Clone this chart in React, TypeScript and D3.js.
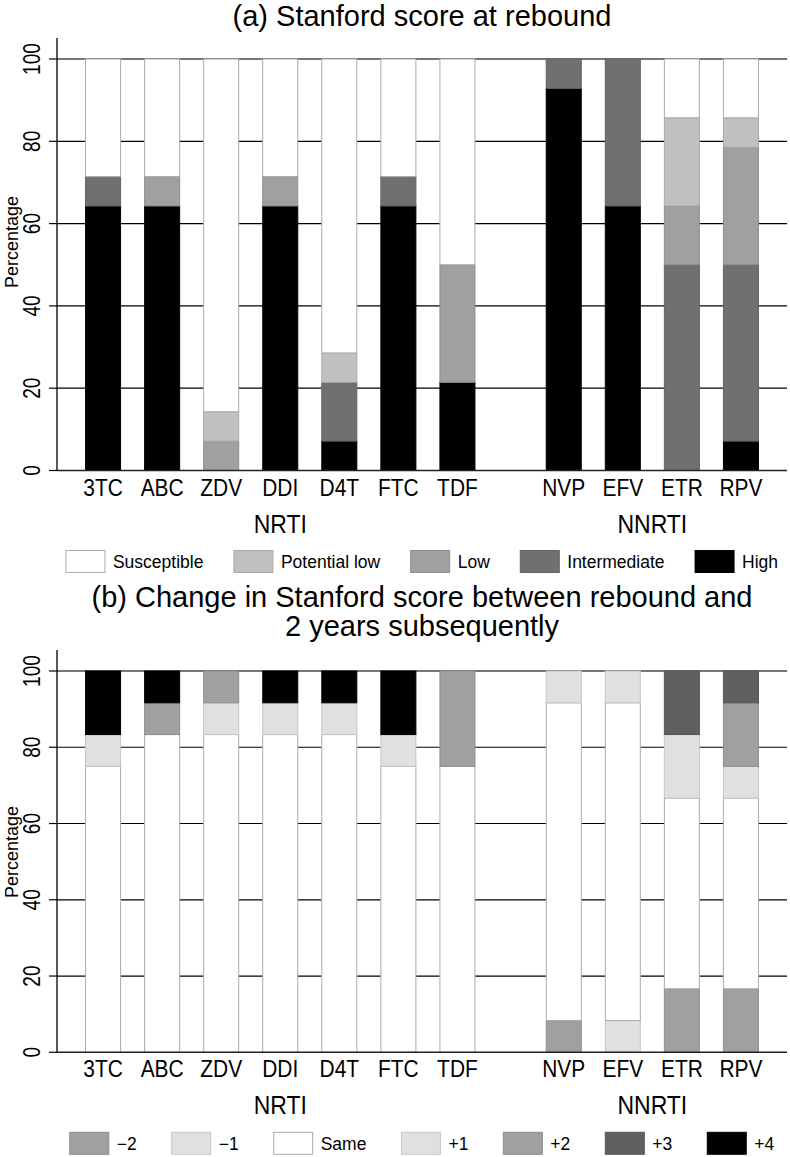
import React, { useEffect, useRef } from 'react';
import * as d3 from 'd3';

const NRTI_DRUGS = ['3TC', 'ABC', 'ZDV', 'DDI', 'D4T', 'FTC', 'TDF'];
const NNRTI_DRUGS = ['NVP', 'EFV', 'ETR', 'RPV'];
const GROUP_LABELS = ['NRTI', 'NNRTI'];
const Y_TICKS = [0, 20, 40, 60, 80, 100];

// Panel (a): percentage of each Stanford level, per drug (3TC..TDF, NVP..RPV)
const A_LEVELS = ['Susceptible', 'Potential low', 'Low', 'Intermediate', 'High'];
const A_COLORS = ['#ffffff', '#c0c0c0', '#a0a0a0', '#707070', '#000000'];
const A_SUSCEPTIBLE = [28.57, 28.57, 85.71, 28.57, 71.43, 28.57, 50, 0, 0, 14.29, 14.29];
const A_POTENTIAL_LOW = [0, 0, 7.14, 0, 7.14, 0, 0, 0, 0, 21.43, 7.14];
const A_LOW = [0, 7.14, 7.14, 7.14, 0, 0, 28.57, 0, 0, 14.29, 28.57];
const A_INTERMEDIATE = [7.14, 0, 0, 0, 14.29, 7.14, 0, 7.14, 35.71, 50, 42.86];
const A_HIGH = [64.29, 64.29, 0, 64.29, 7.14, 64.29, 21.43, 92.86, 64.29, 0, 7.14];

// Panel (b): change in Stanford score
const B_LEVELS = ['\u22122', '\u22121', 'Same', '+1', '+2', '+3', '+4'];
const B_COLORS = ['#a0a0a0', '#e0e0e0', '#ffffff', '#e0e0e0', '#a0a0a0', '#606060', '#000000'];
const B_M2 = [0, 0, 0, 0, 0, 0, 0, 8.33, 0, 16.67, 16.67];
const B_M1 = [0, 0, 0, 0, 0, 0, 0, 0, 8.33, 0, 0];
const B_SAME = [75, 83.33, 83.33, 83.33, 83.33, 75, 75, 83.33, 83.33, 50, 50];
const B_P1 = [8.33, 0, 8.33, 8.33, 8.33, 8.33, 0, 8.33, 8.33, 16.67, 8.33];
const B_P2 = [0, 8.33, 8.33, 0, 0, 0, 25, 0, 0, 0, 16.67];
const B_P3 = [0, 0, 0, 0, 0, 0, 0, 0, 0, 16.67, 8.33];
const B_P4 = [16.67, 8.33, 0, 8.33, 8.33, 16.67, 0, 0, 0, 0, 0];

const W = 790;
const H = 1157;
const FONT = "'Liberation Sans', Arial, Helvetica, sans-serif";
const PLOT_L = 57;
const PLOT_R = 787;

interface PanelCfg {
  titles: string[];
  titleY: number[];
  y100: number;
  y0: number;
  ylabelY: number;
  levels: string[];
  colors: string[];
  series: number[][]; // in legend order
  stackOrder: number[]; // bottom to top indices into levels
  legendGap: number;
}

function strokeFor(c: string) {
  if (c.toLowerCase() === '#ffffff') return '#ababab';
  return d3.rgb(c).darker(0.35).formatHex();
}

function drawPanel(svg: d3.Selection<SVGSVGElement, unknown, null, undefined>, cfg: PanelCfg) {
  const drugs = [...NRTI_DRUGS, ...NNRTI_DRUGS];
  const slot = drugs.map((_, i) => (i < NRTI_DRUGS.length ? i : i + 0.8));
  const x = d3.scaleLinear().domain([-0.78, 11.58]).range([PLOT_L, PLOT_R]);
  const y = d3.scaleLinear().domain([0, 100]).range([cfg.y0, cfg.y100]);
  const barW = 0.593 * (x(1) - x(0));
  const g = svg.append('g');

  // titles
  cfg.titles.forEach((t, i) => {
    g.append('text')
      .attr('x', (PLOT_L + PLOT_R) / 2)
      .attr('y', cfg.titleY[i])
      .attr('text-anchor', 'middle')
      .attr('font-size', 29)
      .attr('font-family', FONT)
      .attr('fill', '#000')
      .text(t);
  });

  // gridlines
  g.append('g')
    .selectAll('line')
    .data(Y_TICKS.filter((d) => d > 0))
    .join('line')
    .attr('x1', PLOT_L)
    .attr('x2', PLOT_R)
    .attr('y1', (d) => y(d))
    .attr('y2', (d) => y(d))
    .attr('stroke', (d) => (d === 100 ? '#4a4a4a' : '#000'))
    .attr('stroke-width', (d) => (d === 100 ? 1.6 : 1.2));

  // bars
  const rows = drugs.map((dname, i) => {
    const r: Record<string, number | string> = { drug: dname };
    cfg.levels.forEach((lv, k) => (r[lv] = cfg.series[k][i]));
    return r;
  });
  const keys = cfg.stackOrder.map((k) => cfg.levels[k]);
  const stack = d3.stack<Record<string, number | string>>().keys(keys)(rows as any);
  stack.forEach((layer, li) => {
    const color = cfg.colors[cfg.stackOrder[li]];
    g.append('g')
      .selectAll('rect')
      .data(layer.map((d, i) => ({ d, i })).filter((o) => o.d[1] - o.d[0] > 0))
      .join('rect')
      .attr('x', (o) => x(slot[o.i]) - barW / 2)
      .attr('width', barW)
      .attr('y', (o) => y(o.d[1]))
      .attr('height', (o) => y(o.d[0]) - y(o.d[1]))
      .attr('fill', color)
      .attr('stroke', strokeFor(color))
      .attr('stroke-width', 1);
  });

  // axes
  g.append('line')
    .attr('x1', PLOT_L)
    .attr('x2', PLOT_L)
    .attr('y1', cfg.y100 - 21)
    .attr('y2', cfg.y0)
    .attr('stroke', '#000')
    .attr('stroke-width', 1.3);
  g.append('line')
    .attr('x1', PLOT_L)
    .attr('x2', PLOT_R)
    .attr('y1', cfg.y0)
    .attr('y2', cfg.y0)
    .attr('stroke', '#222')
    .attr('stroke-width', 1.5);

  // y ticks
  const yt = g.append('g');
  yt.selectAll('line')
    .data(Y_TICKS)
    .join('line')
    .attr('x1', PLOT_L - 8)
    .attr('x2', PLOT_L)
    .attr('y1', (d) => y(d))
    .attr('y2', (d) => y(d))
    .attr('stroke', '#000')
    .attr('stroke-width', 1.2);
  yt.selectAll('text')
    .data(Y_TICKS)
    .join('text')
    .attr('transform', (d) => `translate(40,${y(d)}) rotate(-90) scale(0.83,1)`)
    .attr('text-anchor', 'middle')
    .attr('font-size', 23)
    .attr('font-family', FONT)
    .text((d) => String(d));

  g.append('text')
    .attr('transform', `translate(18,${cfg.ylabelY}) rotate(-90)`)
    .attr('text-anchor', 'middle')
    .attr('font-size', 18)
    .attr('font-family', FONT)
    .text('Percentage');

  // x labels
  g.append('g')
    .selectAll('text')
    .data(drugs)
    .join('text')
    .attr('transform', (_, i) => `translate(${x(slot[i])},${cfg.y0 + 25}) scale(0.91,1)`)
    .attr('text-anchor', 'middle')
    .attr('font-size', 23)
    .attr('font-family', FONT)
    .text((d) => d);

  const groupCenters = [
    (x(slot[0]) + x(slot[NRTI_DRUGS.length - 1])) / 2,
    (x(slot[NRTI_DRUGS.length]) + x(slot[drugs.length - 1])) / 2,
  ];
  g.append('g')
    .selectAll('text')
    .data(GROUP_LABELS)
    .join('text')
    .attr('transform', (_, i) => `translate(${groupCenters[i]},${cfg.y0 + 62}) scale(0.92,1)`)
    .attr('text-anchor', 'middle')
    .attr('font-size', 25)
    .attr('font-family', FONT)
    .text((d) => d);

  // legend
  const boxW = 39;
  const boxH = 22;
  const boxGap = 8;
  const lg = g.append('g');
  const items = cfg.levels.map((lv, k) => {
    const it = lg.append('g');
    it.append('rect')
      .attr('width', boxW)
      .attr('height', boxH)
      .attr('fill', cfg.colors[k])
      .attr('stroke', strokeFor(cfg.colors[k]))
      .attr('stroke-width', 1);
    const t = it.append('text')
      .attr('x', boxW + boxGap)
      .attr('y', boxH / 2 + 6.5)
      .attr('font-size', 17.5)
      .attr('font-family', FONT)
      .text(lv);
    const tw = (t.node() as SVGTextElement).getComputedTextLength();
    return { it, w: boxW + boxGap + tw };
  });
  const total = d3.sum(items, (d) => d.w) + cfg.legendGap * (items.length - 1);
  let cx = (PLOT_L + PLOT_R) / 2 - total / 2;
  items.forEach((d) => {
    d.it.attr('transform', `translate(${cx},${cfg.y0 + 80})`);
    cx += d.w + cfg.legendGap;
  });
}

export default function App() {
  const ref = useRef<SVGSVGElement>(null);
  useEffect(() => {
    document.body.style.margin = '0';
    const svg = d3.select(ref.current as SVGSVGElement);
    svg.selectAll('*').remove();
    svg.append('rect').attr('width', W).attr('height', H).attr('fill', '#fff');
    drawPanel(svg, {
      titles: ['(a) Stanford score at rebound'],
      titleY: [26],
      y100: 59,
      y0: 470.5,
      ylabelY: 242,
      levels: A_LEVELS,
      colors: A_COLORS,
      series: [A_SUSCEPTIBLE, A_POTENTIAL_LOW, A_LOW, A_INTERMEDIATE, A_HIGH],
      stackOrder: [4, 3, 2, 1, 0],
      legendGap: 30.5,
    });
    drawPanel(svg, {
      titles: ['(b) Change in Stanford score between rebound and', '2 years subsequently'],
      titleY: [607, 636],
      y100: 671,
      y0: 1052.3,
      ylabelY: 852,
      levels: B_LEVELS,
      colors: B_COLORS,
      series: [B_M2, B_M1, B_SAME, B_P1, B_P2, B_P3, B_P4],
      stackOrder: [0, 1, 2, 3, 4, 5, 6],
      legendGap: 35,
    });
  }, []);
  return <svg ref={ref} width={W} height={H} style={{ display: 'block' }} />;
}
